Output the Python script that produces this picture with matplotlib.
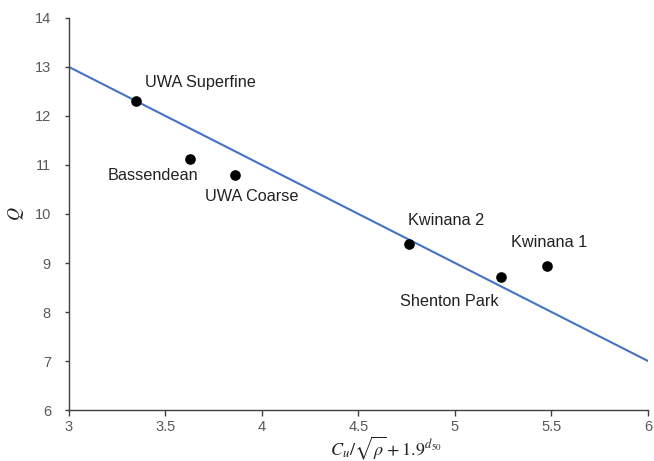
import matplotlib
matplotlib.use("Agg")
import matplotlib.pyplot as plt

# sample points
names = ["UWA Superfine", "Bassendean", "UWA Coarse", "Kwinana 2", "Shenton Park", "Kwinana 1"]
x_vals = [3.347, 3.627, 3.86, 4.76, 5.24, 5.477]
q_vals = [12.31, 11.12, 10.80, 9.39, 8.71, 8.94]

# label anchor (left edge, vertical centre) for each name
label_x = [3.394, 3.202, 3.705, 4.756, 4.715, 5.29]
label_y = [12.69, 10.78, 10.35, 9.86, 8.22, 9.41]

# fitted line
fit_x = [3, 6]
fit_y = [13, 7]

plt.rcParams["font.family"] = ["Liberation Sans", "DejaVu Sans"]
plt.rcParams["mathtext.fontset"] = "stix"

fig = plt.figure(figsize=(6.54, 4.61), dpi=100)
ax = fig.add_axes([0.1055, 0.1106, 0.8853, 0.8504])

ax.plot(fit_x, fit_y, color="#4472C4", linewidth=1.5, zorder=2)
ax.scatter(x_vals, q_vals, s=44, color="black", zorder=3)

for name, lx, ly in zip(names, label_x, label_y):
    ax.text(lx, ly, name, ha="left", va="center", fontsize=11.7, color="#222222")

ax.set_xlim(3, 6)
ax.set_ylim(6, 14)
ax.set_xticks([3, 3.5, 4, 4.5, 5, 5.5, 6])
ax.set_xticklabels(["3", "3.5", "4", "4.5", "5", "5.5", "6"])
ax.set_yticks(range(6, 15))

for side in ["top", "right"]:
    ax.spines[side].set_visible(False)
for side in ["left", "bottom"]:
    ax.spines[side].set_color("#404040")
    ax.spines[side].set_linewidth(1.0)

ax.tick_params(axis="both", labelsize=10.5, colors="#404040", labelcolor="#595959",
               length=4, width=1.0, direction="out")
ax.tick_params(axis="y", length=3, pad=10)

ax.set_xlabel(r"$C_u/\sqrt{\rho}+1.9^{d_{50}}$", fontsize=13, color="#222222")
ax.xaxis.set_label_coords(0.547, -0.063)
ax.set_ylabel(r"$Q$", fontsize=13, labelpad=6, color="#222222")

fig.savefig("out.png", dpi=100)
